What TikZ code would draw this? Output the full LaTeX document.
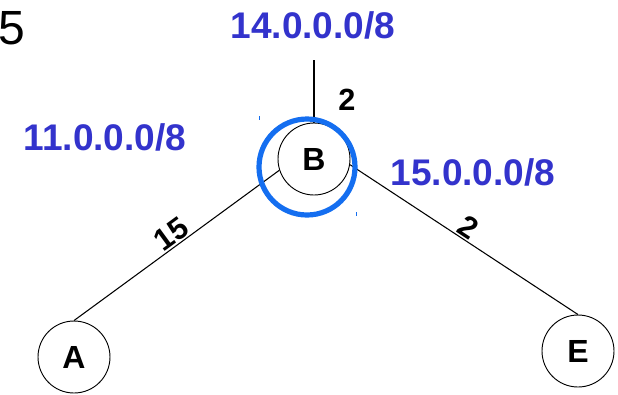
\documentclass[tikz,border=0pt]{standalone}
\usepackage{fontspec}
\setmainfont{Liberation Sans}
\usetikzlibrary{positioning}

\definecolor{netblue}{RGB}{51,51,204}
\definecolor{selblue}{RGB}{20,110,240}

\begin{document}
\begin{tikzpicture}[
        x=0.75pt, y=-0.75pt,
        router/.style={
            circle,
            draw=black,
            line width=0.7pt,
            minimum size=54pt,
            inner sep=0pt,
            font=\fontsize{24}{26}\selectfont\bfseries
        },
        net/.style={
            text=netblue,
            inner sep=0pt,
            font=\fontsize{27.8}{30}\selectfont\bfseries
        },
        cost/.style={
            inner sep=1pt,
            font=\fontsize{23}{25}\selectfont\bfseries
        },
        link/.style={
            line width=0.8pt,
            black
        },
        ring/.style={
            circle,
            draw=selblue,
            line width=3.9pt,
            minimum size=72pt,
            inner sep=0pt
        }
    ]
    \useasboundingbox (0,0) rectangle (618,394);

    % Slide number
    \node[inner sep=0pt, font=\fontsize{36}{38}\selectfont] (num) at (12,28) {5};

    % Routers
    \node[router] (B) at (314,159) {B};
    \node[router] (A) at (74,357) {A};
    \node[router] (E) at (578,351) {E};

    % Networks
    \node[net] (n14) at (313,25)  {14.0.0.0/8};
    \node[net] (n11) at (105,137) {11.0.0.0/8};
    \node[net] (n15) at (473,172) {15.0.0.0/8};

    % Links
    \coordinate (stub) at (314,60);
    \draw[link] (stub) -- (B.north);
    \node[cost] (c14) at (347,100) {2};
    \draw[link] (A.north) -- node[cost, pos=.51, sloped, above] (cA) {15} (B.198);
    \draw[link] (B.351) -- node[cost, pos=.49, sloped, above] (cE) {2} (E.north);

    % Selection around B
    \node[ring] (sel) at (307,167) {};
    \coordinate (h1) at (259,116);
    \coordinate (h2) at (259,120);
    \coordinate (h3) at (356,212);
    \coordinate (h4) at (356,216);
    \draw[selblue, line width=0.6pt] (h1) -- (h2);
    \draw[selblue, line width=0.6pt] (h3) -- (h4);
\end{tikzpicture}
\end{document}
